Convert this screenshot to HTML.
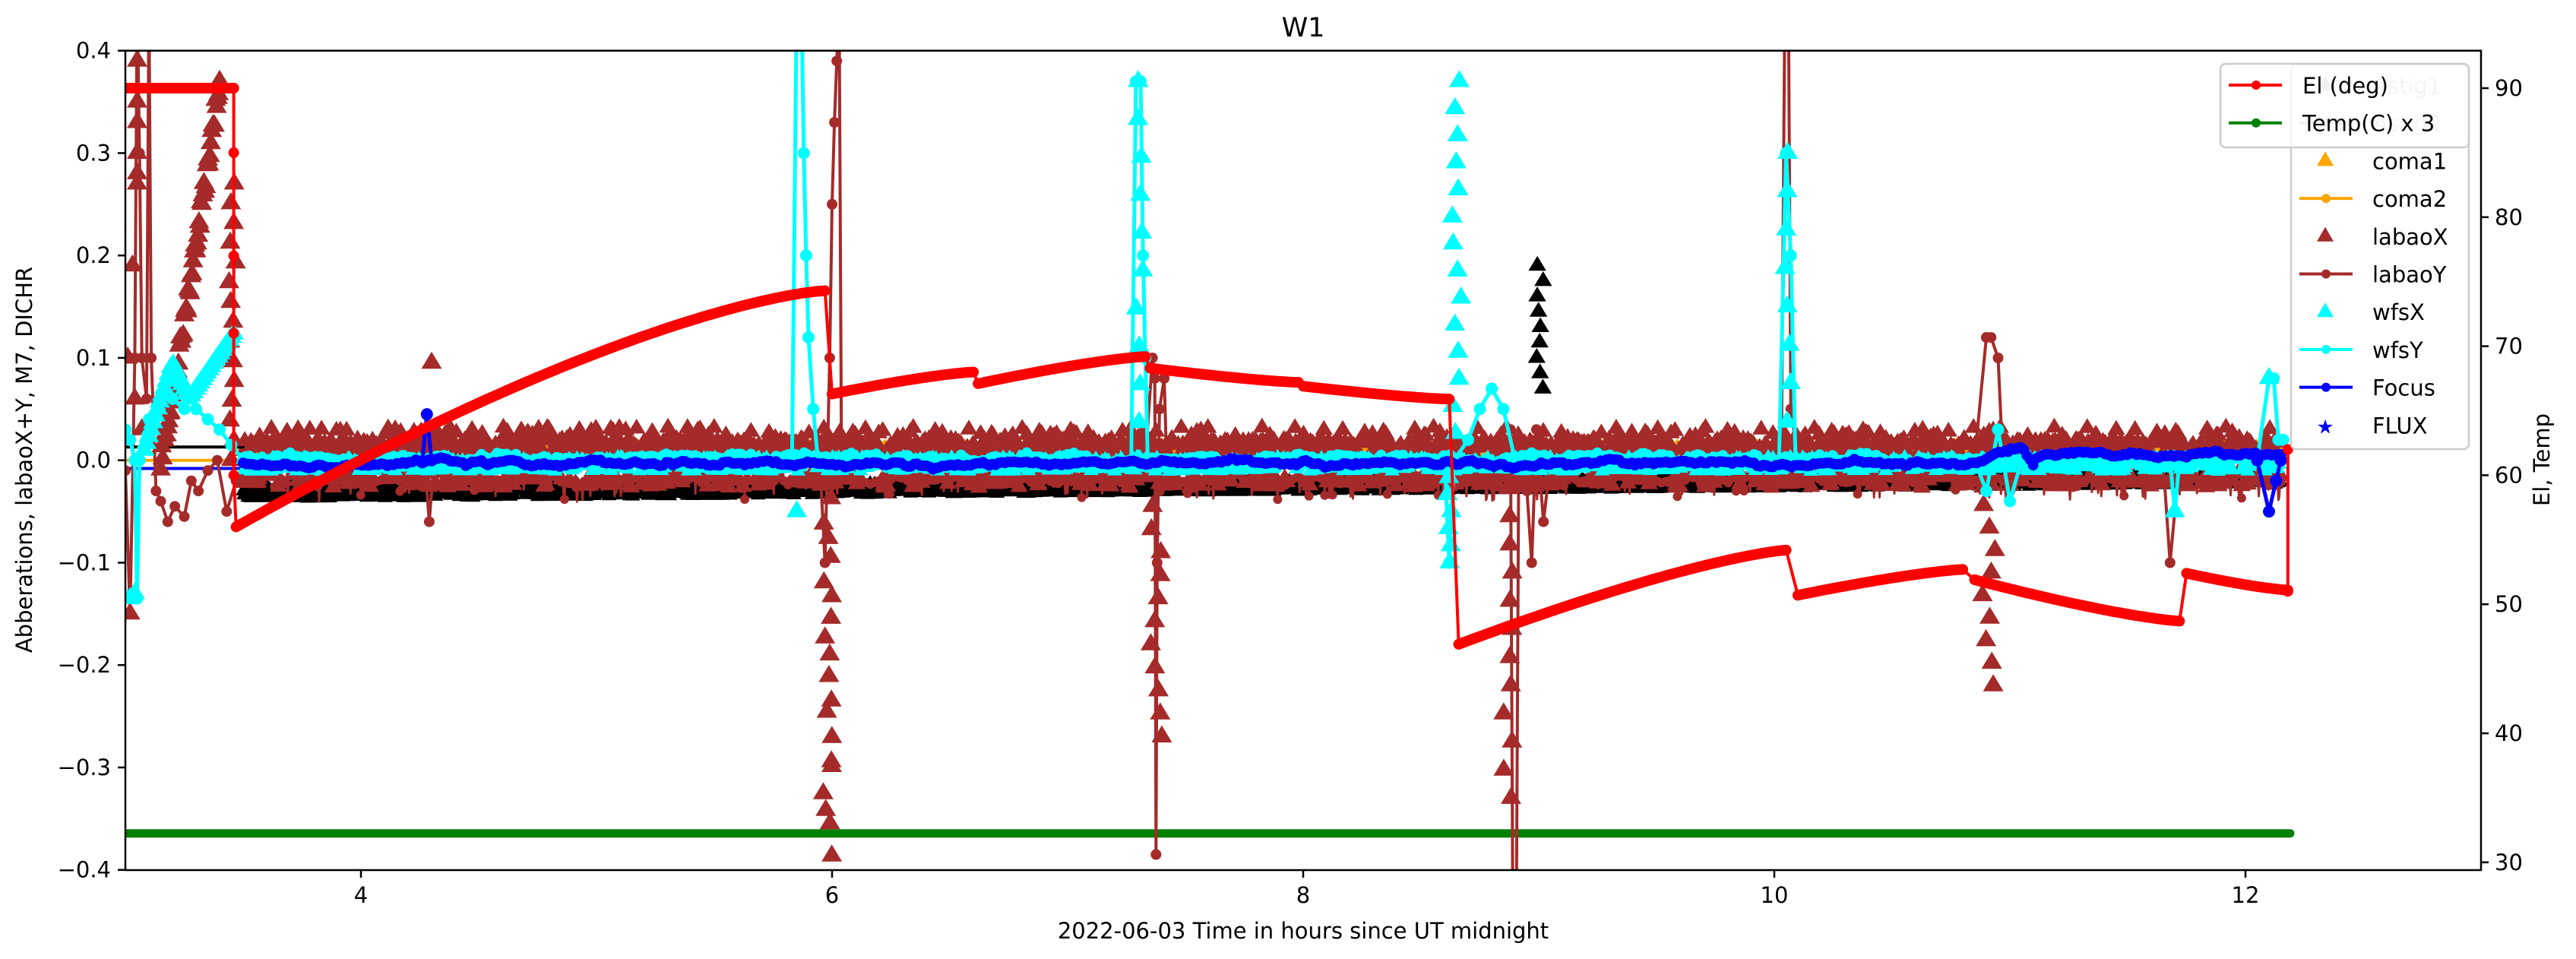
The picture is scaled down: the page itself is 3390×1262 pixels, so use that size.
<!DOCTYPE html>
<html><head><meta charset="utf-8">
<style>html,body{margin:0;padding:0;background:#fff}svg{display:block}text{font-family:"DejaVu Sans","Liberation Sans",sans-serif}</style>
</head><body>
<svg id="s" width="3390" height="1262" xmlns="http://www.w3.org/2000/svg">
<defs><clipPath id="c"><rect x="165" y="66.7" width="3100" height="1078.3"/></clipPath></defs>
<rect width="3390" height="1262" fill="#fff"/>
<g id="plot" clip-path="url(#c)"></g>
<g id="axes"></g>
</svg>
<script>
(function(){
var NS="http://www.w3.org/2000/svg";
var plot=document.getElementById('plot'),axes=document.getElementById('axes');
function X(h){return 165+(h-3)*310;}
function Y(v){return 605.7-v*1347.5;}
function YE(e){return 116+(90-e)*16.98;}
var seed=12345;function rnd(){seed=(seed*1103515245+12345)%2147483648;return seed/2147483648;}
function el(tag,attrs,parent,txt){var e=document.createElementNS(NS,tag);for(var k in attrs)e.setAttribute(k,attrs[k]);if(txt!==undefined)e.textContent=txt;(parent||plot).appendChild(e);return e;}
function poly(pts,color,w){var d=pts.map(function(p,i){return (i?'L':'M')+p[0].toFixed(1)+' '+p[1].toFixed(1);}).join('');el('path',{d:d,fill:'none',stroke:color,'stroke-width':w,'stroke-linejoin':'round','stroke-linecap':'round'});}
function dots(pts,color,r){var d='';pts.forEach(function(p){d+='M'+(p[0]-r).toFixed(1)+' '+p[1].toFixed(1)+'a'+r+' '+r+' 0 1 0 '+(2*r)+' 0a'+r+' '+r+' 0 1 0 '+(-2*r)+' 0';});el('path',{d:d,fill:color});}
function tris(pts,color,s){var d='';pts.forEach(function(p){d+='M'+p[0].toFixed(1)+' '+(p[1]-s).toFixed(1)+'l'+(s*0.9).toFixed(1)+' '+(s*1.5).toFixed(1)+'h'+(-s*1.8).toFixed(1)+'z';});el('path',{d:d,fill:color});}

poly([[X(3),1096.7],[X(12.19),1096.7]],'green',11);

var H0=3.5,H1=12.15,N=2600;
var blackT=[],orangeT=[],orangeL=[],brownT=[],brownL=[],cyanT=[],cyanL=[],blueL=[];
var wy=0,wc=0,wf=0;
for(var i=0;i<=N;i++){
 var h=H0+(H1-H0)*i/N,x=X(h);
 var bc=-0.032+0.014*(h-3.5)/8.6;
 blackT.push([x,Y(bc+(rnd()-0.5)*0.012)]);
 if(i%2==0)blackT.push([x,Y(0.009+(rnd()-0.5)*0.004)]);
 orangeT.push([x,Y(0.01+(rnd()-0.5)*0.01)]);
 orangeL.push([x,Y(0.01+(rnd()-0.5)*0.006)]);
 var r=rnd();
 if(r<0.6){var bv=0.006+rnd()*0.014+(rnd()<0.2?0.012:0);brownT.push([x,Y(bv)]);}
 else if(r<0.8){brownT.push([x,Y(-0.012-rnd()*0.015)]);}
 wy+= (rnd()-0.5)*0.006; wy*=0.9;
 brownL.push([x,Y(-0.018+wy+(rnd()<0.05?-0.015:0))]);
 wc+=(rnd()-0.5)*0.004; wc*=0.9;
 cyanL.push([x,Y(0.002+wc)]);
 if(i%2==0)cyanT.push([x,Y(-0.004+(rnd()-0.5)*0.014)]);
 wf+=(rnd()-0.5)*0.002; wf*=0.95;
 var fb=-0.003+wf; if(h>10.8&&h<11.1)fb+= (h<11.05?(h-10.8)/0.25*0.02:0.02*(11.1-h)/0.05);
 if(h>11.1) fb+=0.008;
 blueL.push([x,Y(fb)]);
}
tris(blackT,'#000',11);
poly(orangeL,'orange',5);tris(orangeT,'orange',10);
tris(brownT,'brown',13);
poly(brownL,'brown',3);dots(brownL.filter(function(p,i){return i%5==0;}),'brown',6);

poly([[X(3),Y(0.013)],[X(3.5),Y(0.013)]],'#000',4);
poly([[X(3),Y(0.0)],[X(3.5),Y(0.0)]],'orange',4);
poly([[X(3),Y(-0.008)],[X(3.5),Y(-0.008)]],'blue',4);

function spikeL(list,color,w,r){var pts=list.map(function(p){return[X(p[0]),Y(p[1])];});poly(pts,color,w);dots(pts,color,r);}
spikeL([[3.0,-0.01],[3.02,-0.15],[3.04,0.1],[3.05,0.45],[3.06,0.3],[3.07,0.1],[3.09,0.06],[3.1,0.45],[3.11,0.1],[3.13,-0.03],[3.15,-0.04],[3.18,-0.06],[3.21,-0.045],[3.25,-0.055],[3.28,-0.02],[3.31,-0.03],[3.35,-0.01],[3.39,0.0],[3.43,-0.05],[3.47,-0.02],[3.5,-0.015]],'brown',4,7);
spikeL([[5.95,-0.01],[5.97,-0.1],[5.98,0.0],[5.99,0.1],[6.0,0.25],[6.01,0.33],[6.02,0.39],[6.03,0.45],[6.04,0.0]],'brown',4,7);
spikeL([[7.33,0.0],[7.36,0.1],[7.37,0.08],[7.375,-0.385],[7.38,-0.1],[7.39,0.05],[7.41,0.08],[7.42,0.0]],'brown',4,7);
spikeL([[8.86,0.0],[8.88,0.03],[8.89,-0.45],[8.905,-0.45],[8.915,0.0],[8.95,-0.03],[8.97,-0.1],[8.99,0.03],[9.02,-0.06],[9.05,0.0]],'brown',4,7);
spikeL([[10.03,0.0],[10.045,0.45],[10.06,0.45],[10.07,0.05],[10.1,0.0]],'brown',4,7);
spikeL([[10.85,0.0],[10.9,0.12],[10.92,0.12],[10.95,0.1],[10.97,0.0],[11.0,-0.03]],'brown',4,7);
spikeL([[11.65,0.0],[11.68,-0.1],[11.7,-0.05],[11.72,0.0]],'brown',4,7);
spikeL([[4.27,0.0],[4.29,-0.06],[4.31,0.0]],'brown',4,7);

var bx=[];
[[3.02,-0.15],[3.03,0.19],[3.05,0.39],[3.05,0.35],[3.05,0.33],[3.05,0.3],[3.05,0.27],[3.05,0.28],[3.01,0.1],[3.04,0.06],[3.07,0.03]].forEach(function(p){bx.push(p);});
for(var k=0;k<=60;k++){var t=k/60;bx.push([3.15+0.25*t,0.0+0.37*Math.pow(t,1.1)+(rnd()-0.5)*0.02]);}
for(var k=0;k<=14;k++){bx.push([3.44+rnd()*0.03,0.27-0.27*k/14]);}
for(var k=0;k<=20;k++){bx.push([5.96+rnd()*0.04,-0.37*k/20-(rnd()*0.02)]);}
for(var k=0;k<=12;k++){bx.push([7.35+rnd()*0.05,-0.27*k/12]);}
for(var k=0;k<=12;k++){bx.push([8.85+rnd()*0.04,-0.33*k/12]);}
for(var k=0;k<=10;k++){bx.push([10.88+rnd()*0.06,-0.22*k/10]);}
bx.push([4.3,0.095]);
tris(bx.map(function(p){return[X(p[0]),Y(p[1])];}),'brown',15);

poly(cyanL,'cyan',9);dots(cyanL.filter(function(p,i){return i%4==0;}),'cyan',7);
tris(cyanT,'cyan',11);
spikeL([[3.0,0.03],[3.02,0.02],[3.04,0.0],[3.05,-0.135],[3.06,0.0],[3.1,0.04],[3.15,0.06],[3.2,0.06],[3.25,0.05],[3.3,0.05],[3.35,0.04],[3.4,0.03],[3.45,0.015],[3.5,0.0]],'cyan',5,8);
var cx=[[3.0,-0.135],[3.02,-0.135],[3.04,-0.13]];
for(var k=0;k<=40;k++){var h=3.08+0.38*k/40;var v=(h<3.2)?0.01+(h-3.08)/0.12*0.085:(h<3.27?0.095-(h-3.2)/0.07*0.035:0.06+(h-3.27)/0.18*0.06);cx.push([h,v]);}
spikeL([[5.83,0.0],[5.85,0.45],[5.87,0.45],[5.88,0.3],[5.89,0.2],[5.9,0.12],[5.92,0.05],[5.94,0.0]],'cyan',5,8);
cx.push([5.85,-0.05]);
spikeL([[7.27,0.0],[7.29,0.37],[7.31,0.37],[7.32,0.2],[7.33,0.1],[7.34,0.0]],'cyan',5,8);
for(var k=0;k<=10;k++){cx.push([7.29+rnd()*0.03,0.37*k/10]);}
for(var k=0;k<=14;k++){cx.push([8.63+rnd()*0.04,0.37*k/14]);}
for(var k=0;k<=6;k++){cx.push([8.61+rnd()*0.02,-0.1*k/6]);}
spikeL([[8.6,0.0],[8.62,-0.1],[8.64,0.0],[8.7,0.02],[8.75,0.05],[8.8,0.07],[8.85,0.05],[8.9,0.0]],'cyan',5,8);
for(var k=0;k<=8;k++){cx.push([10.04+rnd()*0.03,0.3*k/8]);}
spikeL([[10.02,0.0],[10.05,0.3],[10.07,0.2],[10.09,0.0]],'cyan',5,8);
spikeL([[10.85,0.0],[10.9,-0.03],[10.95,0.03],[11.0,-0.04],[11.05,0.0]],'cyan',5,8);
spikeL([[11.68,0.0],[11.7,-0.05],[11.72,0.0]],'cyan',5,8);
spikeL([[12.05,0.0],[12.1,0.08],[12.12,0.08],[12.14,0.02],[12.16,0.02]],'cyan',5,8);
cx.push([11.7,-0.05]);cx.push([12.1,0.08]);
tris(cx.map(function(p){return[X(p[0]),Y(p[1])];}),'cyan',15);

var bk=[];for(var k=0;k<=8;k++){bk.push([X(8.99+rnd()*0.03),Y(0.07+0.12*k/8)]);}
tris(bk,'#000',13);

poly(blueL,'blue',9);dots(blueL.filter(function(p,i){return i%4==0;}),'blue',7);
spikeL([[4.26,-0.002],[4.28,0.045],[4.3,0.0]],'blue',5,8);
spikeL([[12.05,0.0],[12.1,-0.05],[12.13,-0.02],[12.15,0.0]],'blue',5,8);

poly([[X(3),YE(90)],[X(3.46),YE(90)]],'red',14);
var ra=[];for(var k=0;k<=100;k++){var t=k/100;ra.push([X(3.47+2.5*t),YE(56+18.3*(1-Math.pow(1-t,1.4)))]);}
poly(ra,'red',14);
var segs=[[6.0,6.6,66.3,68.0],[6.62,7.33,67.1,69.2],[7.35,7.98,68.3,67.2],[8.0,8.62,66.9,65.9],[8.66,10.05,46.9,54.2],[10.1,10.8,50.7,52.7],[10.85,11.72,51.9,48.7],[11.75,12.18,52.4,51.1]];
segs.forEach(function(s){var a=[];for(var k=0;k<=40;k++){var t=k/40;a.push([X(s[0]+(s[1]-s[0])*t),YE(s[2]+(s[3]-s[2])*(1-Math.pow(1-t,1.3)))]);}poly(a,'red',14);});
function spikeE(list){var pts=list.map(function(p){return[X(p[0]),YE(p[1])];});poly(pts,'red',4);dots(pts,'red',7);}
spikeE([[3.46,90],[3.46,85],[3.46,77],[3.46,71],[3.46,60],[3.47,56]]);spikeE([[5.97,74.3],[6.0,66.3]]);spikeE([[6.6,68.0],[6.62,67.1]]);spikeE([[7.33,69.2],[7.35,68.3]]);spikeE([[7.98,67.2],[8.0,66.9]]);
spikeE([[8.62,65.9],[8.66,46.9]]);spikeE([[10.05,54.2],[10.1,50.7]]);spikeE([[10.8,52.7],[10.85,51.9]]);spikeE([[11.72,48.7],[11.75,52.4]]);
spikeE([[12.18,51.1],[12.18,62],[12.18,51]]);

el('rect',{x:165,y:66.7,width:3100,height:1078.3,fill:'none',stroke:'#000','stroke-width':2.5},axes);
[0.4,0.3,0.2,0.1,0.0,-0.1,-0.2,-0.3,-0.4].forEach(function(v){var y=Y(v);el('line',{x1:155,y1:y,x2:165,y2:y,stroke:'#000','stroke-width':2.5},axes);
 var s=(v<0?'\u2212':'')+Math.abs(v).toFixed(1);el('text',{x:146,y:y+10,'font-size':29,'text-anchor':'end'},axes,s);});
[4,6,8,10,12].forEach(function(h){var x=X(h);el('line',{x1:x,y1:1145,x2:x,y2:1155,stroke:'#000','stroke-width':2.5},axes);el('text',{x:x,y:1188,'font-size':29,'text-anchor':'middle'},axes,String(h));});
[30,40,50,60,70,80,90].forEach(function(e){var y=YE(e);el('line',{x1:3265,y1:y,x2:3275,y2:y,stroke:'#000','stroke-width':2.5},axes);el('text',{x:3283,y:y+10,'font-size':29},axes,String(e));});
el('text',{x:1715,y:48,'font-size':35,'text-anchor':'middle'},axes,'W1');
el('text',{x:1715,y:1235,'font-size':29,'text-anchor':'middle','xml:space':'preserve'},axes,'2022-06-03  Time in hours since UT midnight');
el('text',{x:42,y:605,'font-size':29,'text-anchor':'middle',transform:'rotate(-90 42 605)'},axes,'Abberations, labaoX+Y, M7, DICHR');
el('text',{x:3355,y:605,'font-size':29,'text-anchor':'middle',transform:'rotate(-90 3355 605)'},axes,'El, Temp');

el('rect',{x:3015,y:84,width:234,height:507,rx:7,fill:'#fff','fill-opacity':0.8,stroke:'#ccc','stroke-width':2.5},axes);
var L2=[['Astig1','tri','#bbb'],['Astig2','line','#bbb'],['coma1','tri','orange'],['coma2','line','orange'],['labaoX','tri','brown'],['labaoY','line','brown'],['wfsX','tri','cyan'],['wfsY','line','cyan'],['Focus','line','blue'],['FLUX','star','blue']];
L2.forEach(function(r,i){var y=112+i*49.7;
 if(r[1]=='tri'){el('path',{d:'M3060 '+(y-12)+'l11 19h-22z',fill:r[2]},axes);}
 else if(r[1]=='line'){el('line',{x1:3026,y1:y,x2:3096,y2:y,stroke:r[2],'stroke-width':4},axes);el('circle',{cx:3061,cy:y,r:6,fill:r[2]},axes);}
 else {el('text',{x:3060,y:y+11,'font-size':26,'text-anchor':'middle',fill:r[2]},axes,'\u2605');}
 el('text',{x:3122,y:y+11,'font-size':29,fill:(i<2?'#ccc':'#000')},axes,r[0]);});
el('rect',{x:2922,y:84,width:327,height:110,rx:7,fill:'#fff','fill-opacity':0.8,stroke:'#ccc','stroke-width':2.5},axes);
[['El (deg)','red'],['Temp(C) x 3','green']].forEach(function(r,i){var y=112+i*49.7;
 el('line',{x1:2933,y1:y,x2:3003,y2:y,stroke:r[1],'stroke-width':4},axes);el('circle',{cx:2969,cy:y,r:6,fill:r[1]},axes);
 el('text',{x:3030,y:y+11,'font-size':29},axes,r[0]);});
})();
</script>
</body></html>
